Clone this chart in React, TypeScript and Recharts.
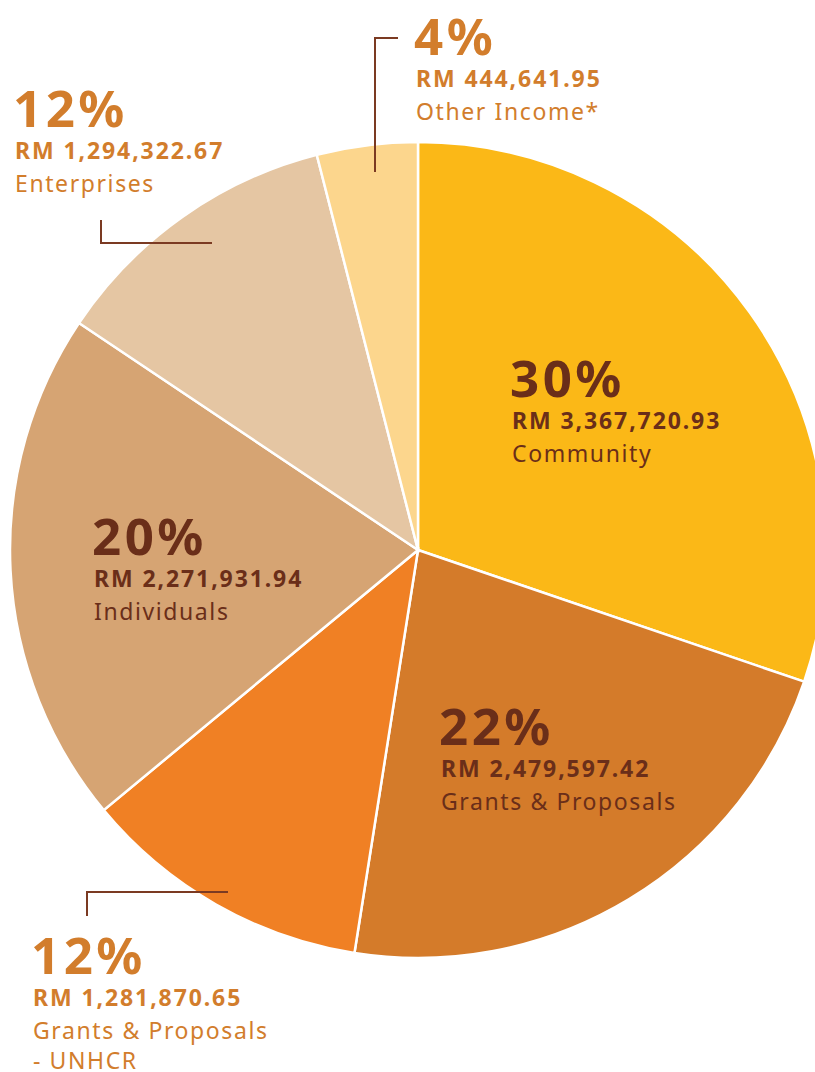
import React from 'react';
import { PieChart, Pie, Cell } from 'recharts';

const categories = ['Community', 'Grants & Proposals', 'Grants & Proposals|- UNHCR', 'Individuals', 'Enterprises', 'Other Income*'];
const amounts = [3367720.93, 2479597.42, 1281870.65, 2271931.94, 1294322.67, 444641.95];
const amountLabels = ['RM 3,367,720.93', 'RM 2,479,597.42', 'RM 1,281,870.65', 'RM 2,271,931.94', 'RM 1,294,322.67', 'RM 444,641.95'];

const COLORS = ['#FBB817', '#D47B2A', '#F08024', '#D6A473', '#E5C6A3', '#FCD68D'];
const DARK = '#6A2E19';
const ORANGE = '#D27D2C';
const LEADER = '#7B3A22';

// label placement (x of left edge, baseline of the big percent), text colour, and optional leader line
const LABELS = [
    { x: 510, y: 397, color: DARK, leader: null },
    { x: 439, y: 745, color: DARK, leader: null },
    { x: 31, y: 974, color: ORANGE, leader: 'M228,892 H87 V916' },
    { x: 92, y: 555, color: DARK, leader: null },
    { x: 13, y: 127, color: ORANGE, leader: 'M101,220 V243 H212' },
    { x: 414, y: 55, color: ORANGE, leader: 'M398,38 H375 V172' },
];

const data = categories.map((name, i) => ({ name, value: amounts[i], amount: amountLabels[i] }));

const FONT = '"Noto Sans", "Open Sans", sans-serif';

const renderLabel = (props: any) => {
    const { index, percent } = props;
    const pos = LABELS[index];
    const lines = data[index].name.split('|');
    return (
        <g key={`lbl-${index}`}>
            {pos.leader && <path d={pos.leader} stroke={LEADER} strokeWidth={2} fill="none" />}
            <text x={pos.x} y={pos.y} fill={pos.color} fontFamily={FONT} fontWeight={700} fontSize={51} letterSpacing={3.5}>
                {`${Math.round(percent * 100)}%`}
            </text>
            <text x={pos.x + 2} y={pos.y + 32} fill={pos.color} fontFamily={FONT} fontWeight={700} fontSize={23} letterSpacing={1.9}>
                {data[index].amount}
            </text>
            {lines.map((l, j) => (
                <text key={j} x={pos.x + 2} y={pos.y + 65 + j * 30} fill={pos.color} fontFamily={FONT} fontWeight={400} fontSize={23} letterSpacing={1.6}>
                    {l}
                </text>
            ))}
        </g>
    );
};

export default function App() {
    return (
        <div style={{ position: 'absolute', left: 0, top: 0, width: 815, height: 1072, background: '#fff' }}>
            <PieChart width={815} height={1072} margin={{ top: 0, right: 0, bottom: 0, left: 0 }}>
                <Pie
                    data={data}
                    dataKey="value"
                    nameKey="name"
                    cx={418}
                    cy={550}
                    outerRadius={408}
                    startAngle={90}
                    endAngle={-270}
                    stroke="#fff"
                    strokeWidth={2.5}
                    label={renderLabel}
                    labelLine={false}
                    isAnimationActive={false}
                >
                    {data.map((d, i) => (
                        <Cell key={d.name} fill={COLORS[i]} />
                    ))}
                </Pie>
            </PieChart>
        </div>
    );
}
